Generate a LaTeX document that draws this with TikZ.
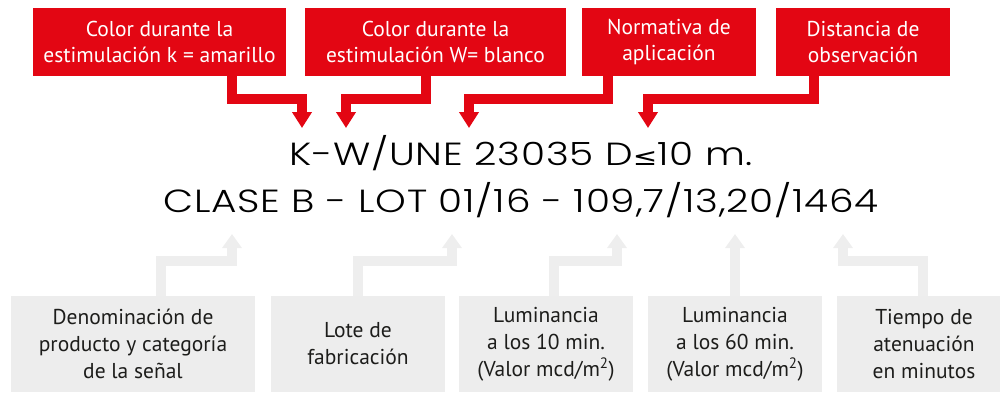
\documentclass[tikz,border=0pt]{standalone}
\usepackage{fontspec}
\setmainfont{PT Sans}
\newfontfamily\mainfnt[LetterSpace=2]{Poppins Light}
\newfontfamily\symfnt{DejaVu Sans}
\usetikzlibrary{arrows.meta}
\definecolor{rojo}{HTML}{E30613}
\definecolor{gris}{HTML}{EDEDED}
\definecolor{grisflecha}{HTML}{EEEEEE}
\definecolor{texto}{HTML}{1D1D1B}
\tikzset{
  redbox/.style={fill=rojo, text=white, inner sep=0pt, align=center, font=\fontsize{21.5}{26}\selectfont},
  graybox/.style={fill=gris, text=texto, inner sep=0pt, align=center, font=\fontsize{21.5}{27}\selectfont},
  redarrow/.style={draw=rojo, line width=10pt, line cap=butt, line join=miter, -{Triangle[length=16pt,width=19pt]}},
  grayarrow/.style={draw=grisflecha, line width=10pt, line cap=butt, line join=miter, -{Triangle[length=14pt,width=19pt]}},
  mainline/.style={anchor=base, inner sep=0pt, xscale=1.22, font=\mainfnt\fontsize{32}{32}\selectfont}
}
\begin{document}
\begin{tikzpicture}[x=1pt,y=-1pt]
\useasboundingbox (0,0) rectangle (1000,392);
% top red boxes
\node[redbox, minimum width=253pt, minimum height=68pt] (r1) at (159.5,42) {Color durante la\\estimulación k = amarillo};
\node[redbox, minimum width=261pt, minimum height=68pt] (r2) at (435.5,42) {Color durante la\\estimulación W= blanco};
\node[redbox, minimum width=174pt, minimum height=68pt] (r3) at (669,42) {Normativa de\\aplicación};
\node[redbox, minimum width=174pt, minimum height=68pt] (r4) at (863,42) {Distancia de\\observación};
% main text
\node[mainline] (l1) at (521,165) {K-W/UNE 23035 D{\symfnt\fontsize{24}{24}\selectfont ≤}10 m.};
\node[mainline] (l2) at (521,212) {CLASE B - LOT 01/16 - 109,7/13,20/1464};
% bottom gray boxes
\node[graybox, minimum width=244pt, minimum height=96pt] (g1) at (133,344) {Denominación de\\producto y categoría\\de la señal};
\node[graybox, minimum width=174pt, minimum height=96pt] (g2) at (358,344) {Lote de\\fabricación};
\node[graybox, minimum width=174pt, minimum height=96pt] (g3) at (546,344) {Luminancia\\a los 10 min.\\(Valor mcd/m\textsuperscript{2})};
\node[graybox, minimum width=174pt, minimum height=96pt] (g4) at (735,344) {Luminancia\\a los 60 min.\\(Valor mcd/m\textsuperscript{2})};
\node[graybox, minimum width=174pt, minimum height=96pt] (g5) at (924,344) {Tiempo de\\atenuación\\en minutos};
% red arrow coordinates
\coordinate (a1s) at (232,76); \coordinate (a1e) at (302,128);
\coordinate (a2s) at (426,76); \coordinate (a2e) at (346,128);
\coordinate (a3s) at (608,76); \coordinate (a3e) at (469,128);
\coordinate (a4s) at (814,76); \coordinate (a4e) at (648,128);
\draw[redarrow] (a1s) |- (a1e |- 0,99) -- (a1e);
\draw[redarrow] (a2s) |- (a2e |- 0,99) -- (a2e);
\draw[redarrow] (a3s) |- (a3e |- 0,99) -- (a3e);
\draw[redarrow] (a4s) |- (a4e |- 0,99) -- (a4e);
% gray arrow coordinates
\coordinate (b1s) at (161,296); \coordinate (b1e) at (232,234);
\coordinate (b2s) at (358,296); \coordinate (b2e) at (452,234);
\coordinate (b3s) at (554,296); \coordinate (b3e) at (617,234);
\coordinate (b4s) at (735,296); \coordinate (b4e) at (735,234);
\coordinate (b5s) at (923,296); \coordinate (b5e) at (843,234);
\draw[grayarrow] (b1s) |- (b1e |- 0,261) -- (b1e);
\draw[grayarrow] (b2s) |- (b2e |- 0,261) -- (b2e);
\draw[grayarrow] (b3s) |- (b3e |- 0,261) -- (b3e);
\draw[grayarrow] (b4s) -- (b4e);
\draw[grayarrow] (b5s) |- (b5e |- 0,261) -- (b5e);
\end{tikzpicture}
\end{document}
